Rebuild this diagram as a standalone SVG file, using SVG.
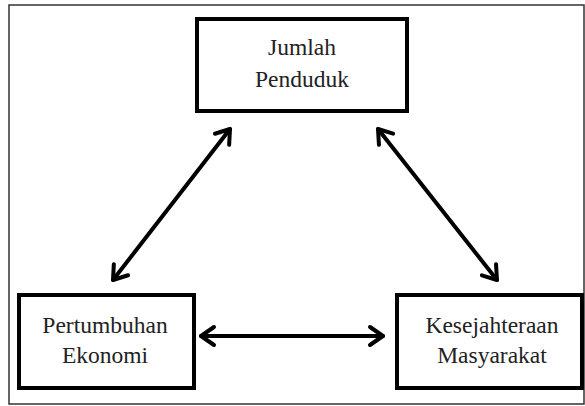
<svg xmlns="http://www.w3.org/2000/svg" width="585" height="406" viewBox="0 0 585 406">
<style>
.box{fill:#fff;stroke:#000;stroke-width:4}
.lbl{font-family:"Liberation Serif","Times New Roman",serif;font-size:23.5px;fill:#222;text-anchor:middle}
.conn{stroke:#000;stroke-width:4;fill:none;stroke-linecap:round}
</style>
<defs>
<marker id="ah" markerUnits="userSpaceOnUse" viewBox="-18 -13 22 26" refX="0" refY="0" markerWidth="22" markerHeight="26" orient="auto-start-reverse">
<path d="M-13,-9 L0,0 L-13,9" fill="none" stroke="#000" stroke-width="4" stroke-linecap="round" stroke-linejoin="round"/>
</marker>
</defs>
<rect x="9" y="5" width="575" height="399" fill="#fff" stroke="#333" stroke-width="1.5"/>
<g id="connectors">
<line class="conn" x1="201" y1="336" x2="383" y2="336" marker-start="url(#ah)" marker-end="url(#ah)"/>
<line class="conn" x1="113" y1="280" x2="230" y2="129" marker-start="url(#ah)" marker-end="url(#ah)"/>
<line class="conn" x1="378" y1="129" x2="497" y2="280" marker-start="url(#ah)" marker-end="url(#ah)"/>
</g>
<g id="jumlah-penduduk">
<rect class="box" x="197" y="19" width="210" height="92"/>
<text class="lbl" x="302" y="55">Jumlah</text>
<text class="lbl" x="302" y="87">Penduduk</text>
</g>
<g id="pertumbuhan-ekonomi">
<rect class="box" x="19" y="295" width="175" height="93"/>
<text class="lbl" x="105" y="333">Pertumbuhan</text>
<text class="lbl" x="105" y="363">Ekonomi</text>
</g>
<g id="kesejahteraan-masyarakat">
<rect class="box" x="397" y="295" width="185" height="93"/>
<text class="lbl" x="492" y="333">Kesejahteraan</text>
<text class="lbl" x="492" y="363">Masyarakat</text>
</g>
</svg>
